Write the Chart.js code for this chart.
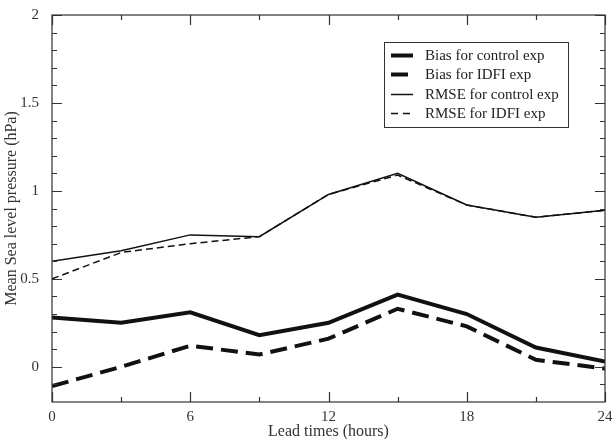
<!DOCTYPE html>
<html>
<head>
<meta charset="utf-8">
<script src="https://cdn.jsdelivr.net/npm/chart.js@4/dist/chart.umd.min.js"></script>
<style>
  html, body { margin: 0; padding: 0; background: #fff; }
  #wrap { width: 615px; height: 439px; }
</style>
</head>
<body>
<div id="wrap"><canvas id="chart" width="615" height="439"></canvas></div>
<script>
(function () {
  'use strict';

  // Lead times (hours)
  const leadHours = [0, 3, 6, 9, 12, 15, 18, 21, 24];

  // Series values (hPa)
  const biasControl = [0.28, 0.25, 0.31, 0.18, 0.25, 0.41, 0.30, 0.11, 0.03];
  const biasIdfi    = [-0.11, 0.00, 0.12, 0.07, 0.16, 0.33, 0.23, 0.04, -0.01];
  const rmseControl = [0.60, 0.66, 0.75, 0.74, 0.98, 1.10, 0.92, 0.85, 0.89];
  const rmseIdfi    = [0.50, 0.65, 0.70, 0.74, 0.98, 1.09, 0.92, 0.85, 0.89];

  const seriesLabels = ['Bias for control exp', 'Bias for IDFI exp', 'RMSE for control exp', 'RMSE for IDFI exp'];

  // Axis ticks
  const xMajor = [0, 6, 12, 18, 24];
  const xMinor = [3, 9, 15, 21];
  const yMajor = [0, 0.5, 1, 1.5, 2];
  const yMinor = [-0.1, 0.1, 0.2, 0.3, 0.4, 0.6, 0.7, 0.8, 0.9, 1.1, 1.2, 1.3, 1.4, 1.6, 1.7, 1.8, 1.9];

  const INK = '#111';
  const FRAME = '#333';
  const SERIF = '"Liberation Serif", "DejaVu Serif", serif';

  function pts(values) {
    return leadHours.map((h, i) => ({ x: h, y: values[i] }));
  }

  const styles = [
    { width: 4, dash: [] },
    { width: 4, dash: [17, 8] },
    { width: 1.5, dash: [] },
    { width: 1.5, dash: [7, 4] }
  ];
  const allValues = [biasControl, biasIdfi, rmseControl, rmseIdfi];

  const datasets = allValues.map((vals, i) => ({
    label: seriesLabels[i],
    data: pts(vals),
    borderColor: INK,
    borderWidth: styles[i].width,
    borderDash: styles[i].dash,
    pointRadius: 0,
    tension: 0,
    fill: false
  }));

  // Frame with inward ticks on all four sides
  const framePlugin = {
    id: 'frame',
    afterDatasetsDraw(chart) {
      const { ctx, chartArea: a, scales } = chart;
      const xs = scales.x, ys = scales.y;
      ctx.save();
      ctx.strokeStyle = FRAME;
      ctx.lineWidth = 1.2;
      ctx.strokeRect(a.left, a.top, a.right - a.left, a.bottom - a.top);
      ctx.beginPath();
      const xt = (list, len) => list.forEach(v => {
        const px = Math.round(xs.getPixelForValue(v)) + 0.5;
        ctx.moveTo(px, a.bottom); ctx.lineTo(px, a.bottom - len);
        ctx.moveTo(px, a.top); ctx.lineTo(px, a.top + len);
      });
      const yt = (list, len) => list.forEach(v => {
        const py = Math.round(ys.getPixelForValue(v)) + 0.5;
        ctx.moveTo(a.left, py); ctx.lineTo(a.left + len, py);
        ctx.moveTo(a.right, py); ctx.lineTo(a.right - len, py);
      });
      xt(xMajor, 10); xt(xMinor, 5);
      yt(yMajor, 10); yt(yMinor, 5);
      ctx.stroke();
      ctx.restore();
    }
  };

  // Legend box inside the plot, upper right
  const legendPlugin = {
    id: 'boxLegend',
    afterDraw(chart) {
      const { ctx } = chart;
      const box = { x: 384.5, y: 42.5, w: 184, h: 85 };
      ctx.save();
      ctx.fillStyle = '#fff';
      ctx.fillRect(box.x, box.y, box.w, box.h);
      ctx.strokeStyle = FRAME;
      ctx.lineWidth = 1;
      ctx.strokeRect(box.x, box.y, box.w, box.h);
      ctx.font = '15px ' + SERIF;
      ctx.textBaseline = 'middle';
      ctx.textAlign = 'left';
      chart.data.datasets.forEach((ds, i) => {
        const y = 55 + i * 19.3;
        ctx.beginPath();
        ctx.strokeStyle = INK;
        ctx.lineWidth = ds.borderWidth;
        ctx.setLineDash(ds.borderDash.length ? (ds.borderWidth > 2 ? [17, 8] : [7, 5]) : []);
        ctx.moveTo(391, Math.round(y) + 0.5);
        ctx.lineTo(413, Math.round(y) + 0.5);
        ctx.stroke();
        ctx.setLineDash([]);
        ctx.fillStyle = '#222';
        ctx.fillText(ds.label, 425, y + 1);
      });
      ctx.restore();
    }
  };

  new Chart(document.getElementById('chart'), {
    type: 'line',
    data: { datasets: datasets },
    options: {
      responsive: false,
      animation: false,
      devicePixelRatio: 1,
      layout: { padding: { top: 15, right: 10, left: 0, bottom: 0 } },
      plugins: { legend: { display: false }, tooltip: { enabled: false } },
      scales: {
        x: {
          type: 'linear',
          min: 0,
          max: 24,
          grid: { display: false },
          border: { display: false },
          afterBuildTicks: s => { s.ticks = xMajor.map(v => ({ value: v })); },
          afterFit: s => { s.height = 37; },
          ticks: {
            autoSkip: false,
            maxRotation: 0,
            padding: -2,
            color: '#333',
            font: { family: SERIF, size: 15 },
            callback: v => String(v)
          },
          title: {
            display: true,
            text: 'Lead times (hours)',
            color: '#333',
            padding: { top: 0, bottom: -2 },
            font: { family: SERIF, size: 16 }
          }
        },
        y: {
          type: 'linear',
          min: -0.2,
          max: 2,
          grid: { display: false },
          border: { display: false },
          afterBuildTicks: s => { s.ticks = yMajor.map(v => ({ value: v })); },
          afterFit: s => { s.width = 52; },
          ticks: {
            autoSkip: false,
            padding: 5,
            color: '#333',
            font: { family: SERIF, size: 15 },
            callback: v => String(v)
          },
          title: {
            display: true,
            text: 'Mean Sea level pressure (hPa)',
            color: '#333',
            padding: { top: 2, bottom: 0 },
            font: { family: SERIF, size: 16 }
          }
        }
      }
    },
    plugins: [framePlugin, legendPlugin]
  });
})();
</script>
</body>
</html>
